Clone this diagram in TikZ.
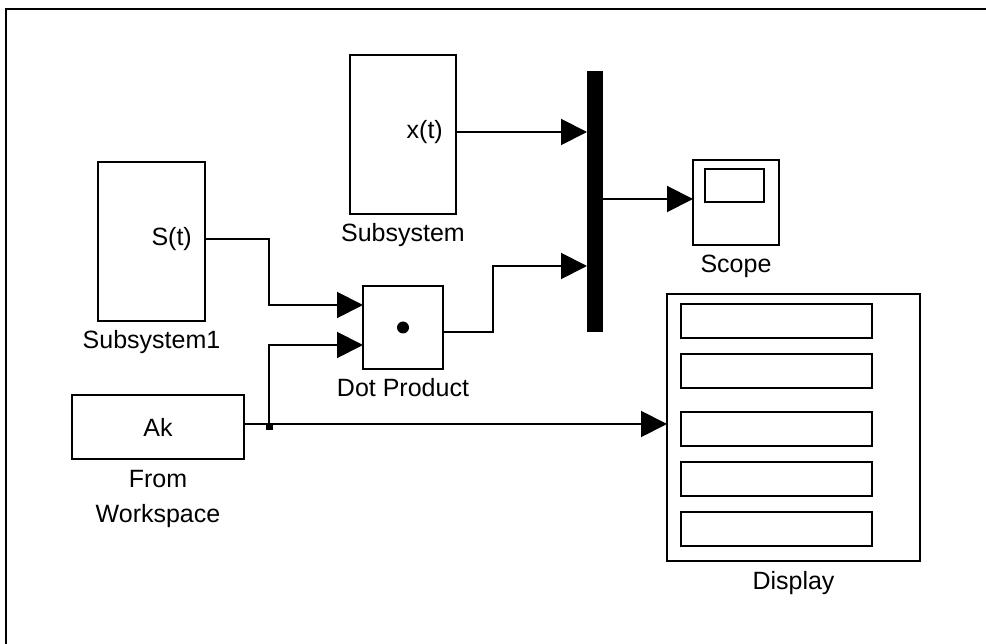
\documentclass[tikz,border=0pt]{standalone}
\usepackage{fontspec}
\setmainfont{Liberation Sans}
\usetikzlibrary{arrows.meta,positioning}
\begin{document}
\begin{tikzpicture}[
        x=1pt, y=-1pt,
        every node/.style={font=\fontsize{25}{30}\selectfont},
        block/.style={draw, line width=2pt, inner sep=0pt},
        blocklabel/.style={inner sep=0pt, anchor=base},
        port/.style={inner sep=0pt, anchor=east},
        signal/.style={line width=2pt, -{Triangle[length=26pt, width=26pt]}},
        wire/.style={line width=2pt},
    ]

    \useasboundingbox (0,0) rectangle (986,644);

    % Model frame (only top and left edges are visible)
    \draw[line width=1.5pt] (6,644) -- (6,9) -- (986,9);

    % Subsystem
    \node[block, minimum width=106pt, minimum height=159pt] (sub) at (403,134.5) {};
    \node[port] (sub-port) at (443,132) {x(t)};
    \coordinate (sub-out) at (456,132);
    \node[blocklabel, below=27pt of sub, anchor=base] (sub-label) {Subsystem};

    % Subsystem1
    \node[block, minimum width=107pt, minimum height=159pt] (sub1) at (151.5,241.5) {};
    \node[port] (sub1-port) at (192,239) {S(t)};
    \coordinate (sub1-out) at (205,239);
    \node[blocklabel, below=27pt of sub1, anchor=base] (sub1-label) {Subsystem1};

    % Mux bar
    \node[fill, minimum width=16pt, minimum height=261pt, inner sep=0pt] (mux) at (595,201.5) {};
    \coordinate (mux-in1) at (587,132);
    \coordinate (mux-in2) at (587,266);
    \coordinate (mux-out) at (603,199);

    % Scope
    \node[block, minimum width=86pt, minimum height=85pt] (scope) at (736,202.5) {};
    \node[block, minimum width=59pt, minimum height=33pt] (scope-screen) at (734.5,185.5) {};
    \coordinate (scope-in) at (693,199);
    \node[blocklabel, below=27pt of scope, anchor=base] (scope-label) {Scope};

    % Dot Product
    \node[block, minimum width=80pt, minimum height=83pt] (dot) at (403,327.5) {};
    \node[circle, fill, minimum size=12pt, inner sep=0pt] (dot-sym) at (dot.center) {};
    \coordinate (dot-in1) at (363,305);
    \coordinate (dot-in2) at (363,345);
    \coordinate (dot-out) at (443,332);
    \node[blocklabel, below=27pt of dot, anchor=base] (dot-label) {Dot Product};

    % From Workspace
    \node[block, minimum width=172pt, minimum height=64pt] (fw) at (158,427) {Ak};
    \coordinate (fw-out) at (244,424);
    \node[blocklabel, below=27pt of fw, anchor=base] (fw-label1) {From};
    \node[blocklabel] (fw-label2) at ([yshift=-35pt]fw-label1.base) {Workspace};

    % Display
    \node[block, minimum width=253pt, minimum height=267pt] (disp) at (793.5,427.5) {};
    \foreach \t in {304,354,412,462,512} {
        \draw[line width=2.2pt] (681,\t) rectangle (872,\t+34);
    }
    \coordinate (disp-in) at (667,424);
    \node[blocklabel, below=27pt of disp, anchor=base] (disp-label) {Display};

    % Branch point on the From Workspace line
    \node[fill, minimum size=7pt, inner sep=0pt] (junc) at (269,427) {};

    % Signals
    \coordinate (bend1) at (269,305);
    \coordinate (bend2) at (493,266);
    \draw[signal] (sub-out) -- (mux-in1);
    \draw[signal] (sub1-out) -| (bend1) -- (dot-in1);
    \draw[signal] (junc) |- (dot-in2);
    \draw[signal] (dot-out) -| (bend2) -- (mux-in2);
    \draw[signal] (mux-out) -- (scope-in);
    \draw[signal] (fw-out) -- (disp-in);

\end{tikzpicture}
\end{document}
